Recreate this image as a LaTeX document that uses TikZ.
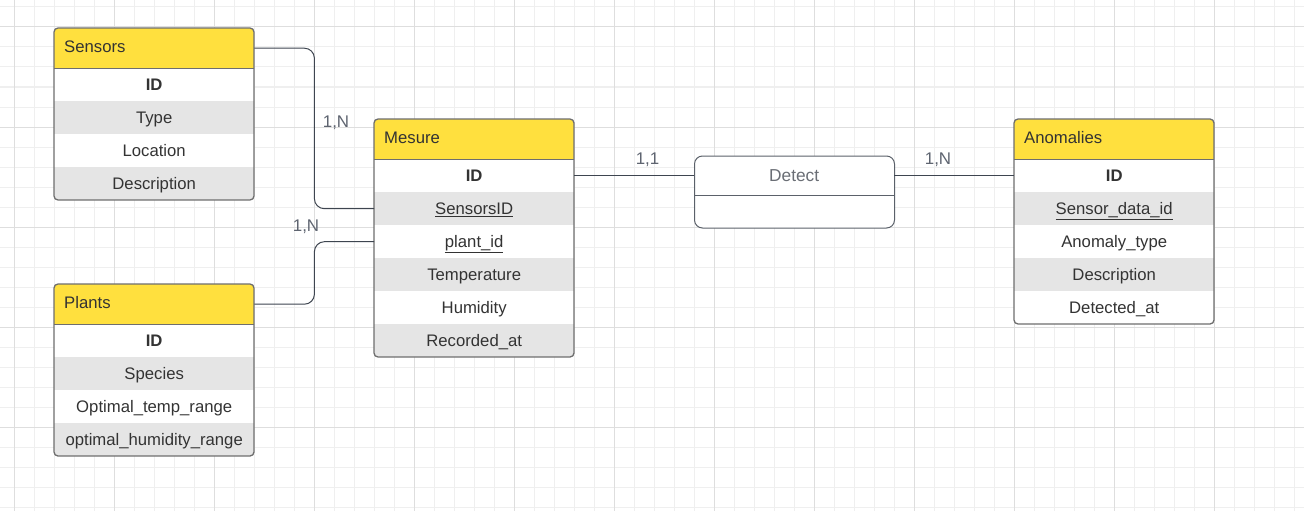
\documentclass[tikz,border=0pt]{standalone}
\usepackage{fontspec}
\setmainfont{Liberation Sans}
\definecolor{hdrfill}{HTML}{FFE03E}
\definecolor{rowgray}{HTML}{E5E5E5}
\definecolor{bordercol}{HTML}{6E6E6E}
\definecolor{txt}{HTML}{333333}
\definecolor{conncol}{HTML}{3E4550}
\definecolor{lblcol}{HTML}{5E6470}
\definecolor{detcol}{HTML}{6A6E75}
\definecolor{gridminor}{HTML}{EFEFEF}
\definecolor{gridmajor}{HTML}{DEDEDE}
\newcommand{\fs}{\fontsize{16.7}{20}\selectfont}
\tikzset{
  gridmin/.style={draw=gridminor, line width=1pt},
  gridmaj/.style={draw=gridmajor, line width=1pt},
  tblborder/.style={draw=bordercol, line width=1.3pt, rounded corners=4pt},
  hdrcell/.style={minimum width=200pt, minimum height=40pt, inner xsep=10pt, inner ysep=0pt,
                  text width=180pt, align=left, anchor=north west, fill=hdrfill, text=txt, font=\fs,
                  text height=15.1pt, text depth=6pt},
  cell/.style={minimum width=200pt, minimum height=33pt, inner sep=0pt, anchor=north west,
               text=txt, font=\fs, text height=15.1pt, text depth=3.5pt},
  wcell/.style={cell, fill=white},
  gcell/.style={cell, fill=rowgray},
  conn/.style={draw=conncol, line width=1pt, rounded corners=10pt},
  card/.style={text=lblcol, font=\fontsize{16.9}{20}\selectfont, inner sep=0pt},
}
\begin{document}
\begin{tikzpicture}[x=1pt, y=-1pt]
\useasboundingbox (0,0) rectangle (1304,511);
\fill[white] (0,0) rectangle (1304,511);
% grid
\foreach \x in {14,34,...,1294} \draw[gridmin] (\x,0) -- (\x,511);
\foreach \y in {7,27,...,507} \draw[gridmin] (0,\y) -- (1304,\y);
\foreach \x in {14,114,...,1214} \draw[gridmaj] (\x,0) -- (\x,511);
\foreach \y in {27,127,...,427} \draw[gridmaj] (0,\y) -- (1304,\y);

% ---------- Sensors ----------
\begin{scope}
\clip[rounded corners=4pt] (54,28) rectangle (254,200);
\node[hdrcell] (sHead) at (54,28) {Sensors};
\node[wcell] (sId)   at (54,68)  {\textbf{ID}};
\node[gcell] (sType) at (54,101) {Type};
\node[wcell] (sLoc)  at (54,134) {Location};
\node[gcell] (sDesc) at (54,167) {Description};
\end{scope}
\draw[draw=bordercol, line width=1.3pt] (sHead.south west) -- (sHead.south east);
\draw[tblborder] (54,28) rectangle (254,200);

% ---------- Plants ----------
\begin{scope}
\clip[rounded corners=4pt] (54,284) rectangle (254,456);
\node[hdrcell] (pHead) at (54,284) {Plants};
\node[wcell] (pId)   at (54,324) {\textbf{ID}};
\node[gcell] (pSpec) at (54,357) {Species};
\node[wcell] (pTemp) at (54,390) {Optimal\_temp\_range};
\node[gcell] (pHum)  at (54,423) {optimal\_humidity\_range};
\end{scope}
\draw[draw=bordercol, line width=1.3pt] (pHead.south west) -- (pHead.south east);
\draw[tblborder] (54,284) rectangle (254,456);

% ---------- Mesure ----------
\begin{scope}
\clip[rounded corners=4pt] (374,119) rectangle (574,357);
\node[hdrcell] (mHead)  at (374,119) {Mesure};
\node[wcell] (mId)    at (374,159) {\textbf{ID}};
\node[gcell] (mSens)  at (374,192) {\underline{SensorsID}};
\node[wcell] (mPlant) at (374,225) {\underline{plant\_id}};
\node[gcell] (mTemp)  at (374,258) {Temperature};
\node[wcell] (mHum)   at (374,291) {Humidity};
\node[gcell] (mRec)   at (374,324) {Recorded\_at};
\end{scope}
\draw[draw=bordercol, line width=1.3pt] (mHead.south west) -- (mHead.south east);
\draw[tblborder] (374,119) rectangle (574,357);

% ---------- Anomalies ----------
\begin{scope}
\clip[rounded corners=4pt] (1014,119) rectangle (1214,324);
\node[hdrcell] (aHead) at (1014,119) {Anomalies};
\node[wcell] (aId)   at (1014,159) {\textbf{ID}};
\node[gcell] (aSens) at (1014,192) {\underline{Sensor\_data\_id}};
\node[wcell] (aType) at (1014,225) {Anomaly\_type};
\node[gcell] (aDesc) at (1014,258) {Description};
\node[wcell] (aDet)  at (1014,291) {Detected\_at};
\end{scope}
\draw[draw=bordercol, line width=1.3pt] (aHead.south west) -- (aHead.south east);
\draw[tblborder] (1014,119) rectangle (1214,324);

% ---------- Detect ----------
\node[draw=conncol!85!white, fill=white, line width=1pt, rounded corners=8pt, minimum width=200pt,
      minimum height=72pt, inner sep=0pt, anchor=north west] (detBox) at (694,155.5) {};
\node[minimum width=200pt, minimum height=40pt, inner sep=0pt, anchor=north west,
      text=detcol, font=\fontsize{17.3}{20}\selectfont, text height=15.6pt, text depth=3.7pt]
      (detect) at (694,155.5) {Detect};
\draw[draw=conncol!85!white, line width=1pt] (detect.south west) -- (detect.south east);

% ---------- connectors ----------
\draw[conn] (sHead.east) -- ([xshift=60pt]sHead.east) |- (mSens.west);
\draw[conn] (pHead.east) -- ([xshift=60pt]pHead.east) |- (mPlant.west);
\draw[conn] (mId.east) -- (detect.west);
\draw[conn] (detect.east) -- (aId.west);

% ---------- cardinalities ----------
\node[card] (c1) at (336,123) {1,N};
\node[card] (c2) at (306,227) {1,N};
\node[card] (c3) at (647.5,159.5) {1,1};
\node[card] (c4) at (938,159.5) {1,N};
\end{tikzpicture}
\end{document}
